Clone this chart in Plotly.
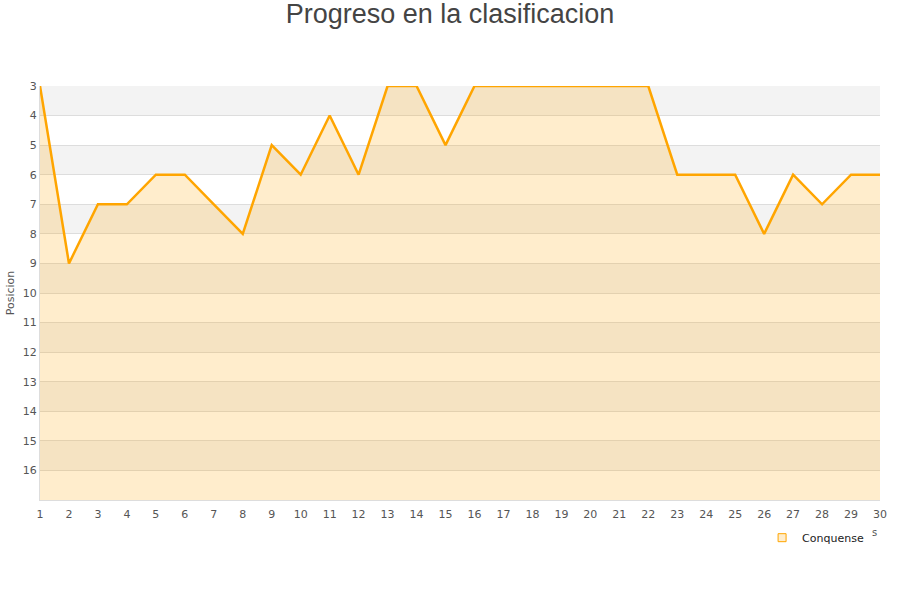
import plotly.graph_objects as go

jornadas = list(range(1, 31))
posicion = [3, 9, 7, 7, 6, 6, 7, 8, 5, 6, 4, 6, 3, 3, 5, 3, 3, 3, 3, 3, 3, 3, 6, 6, 6, 8, 6, 7, 6, 6]
team = "Conquense"
y_ticks = list(range(3, 17))

fig = go.Figure()
fig.add_trace(go.Scatter(x=jornadas, y=[17] * len(jornadas), mode="lines",
                         line=dict(width=0), showlegend=False, hoverinfo="skip"))
fig.add_trace(go.Scatter(x=jornadas, y=posicion, mode="lines", name=team, showlegend=False,
                         line=dict(color="#FFA500", width=2.5),
                         fill="tonexty", fillcolor="rgba(255,165,0,0.2)"))
fig.add_trace(go.Scatter(x=[None], y=[None], mode="markers", name=team,
                         marker=dict(symbol="square", size=8, color="rgba(255,165,0,0.2)",
                                     line=dict(color="#FFA500", width=1))))

shapes = []
for y0 in range(3, 17, 2):
    shapes.append(dict(type="rect", xref="paper", yref="y", x0=0, x1=1, y0=y0, y1=y0 + 1,
                       fillcolor="#f3f3f3", line=dict(width=0), layer="below"))
fig.update_layout(
    width=900, height=600,
    margin=dict(l=40, r=20, t=86, b=100, autoexpand=False),
    paper_bgcolor="white", plot_bgcolor="white",
    shapes=shapes,
    title=dict(text="Progreso en la clasificacion", x=0.5, xanchor="center", y=0.977, yanchor="middle",
               font=dict(family="Liberation Sans, Arial", size=27, color="#444444")),
    font=dict(family="DejaVu Sans", size=11, color="#555555"),
    xaxis=dict(range=[1, 30], tickvals=jornadas, showgrid=False, zeroline=False, automargin=False,
               showline=True, linecolor="#dddddd", ticks="", ticklen=0, ticklabelstandoff=4,
               tickfont=dict(size=11, color="#555555")),
    yaxis=dict(range=[17, 3], tickvals=y_ticks, showgrid=True, gridcolor="#dddddd", automargin=False,
               zeroline=False, showline=True, linecolor="#dddddd", mirror=False,
               tickfont=dict(size=11, color="#555555"),
               title=dict(text="Posicion", font=dict(size=11, color="#555555"), standoff=5)),
    legend=dict(orientation="h", x=0.987, xanchor="right", y=-0.056, yanchor="top",
                font=dict(size=11, color="#222222"), itemwidth=30),
    annotations=[dict(text="s", xref="paper", yref="paper", x=0.9986, y=-0.097, showarrow=False,
                      font=dict(size=10, color="#555555"))],
)
fig.write_html("out.html", config={"displayModeBar": False},
               post_script="document.body.style.margin='0';")
